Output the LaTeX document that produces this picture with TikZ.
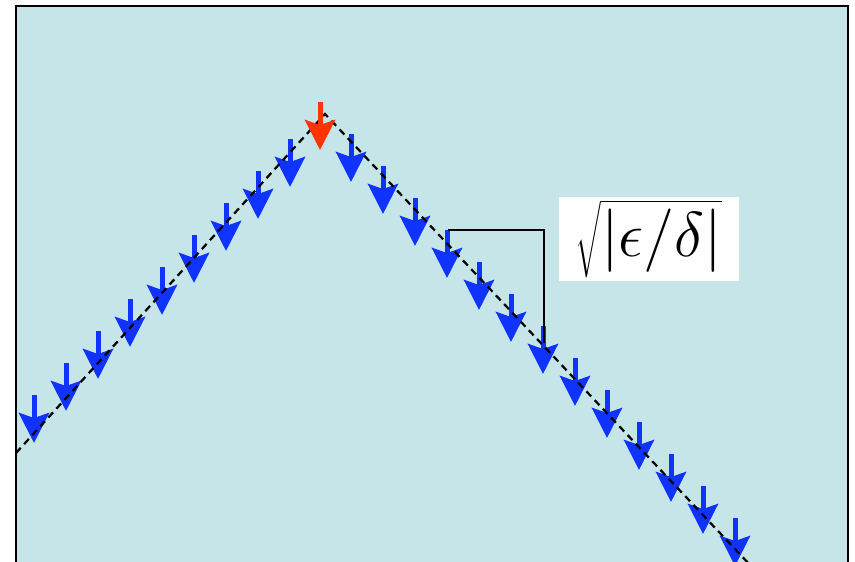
\documentclass[tikz,border=0pt]{standalone}
\usepackage{graphicx}
\usetikzlibrary{arrows.meta}
\definecolor{pool}{HTML}{C6E5E9}
\definecolor{spinblue}{HTML}{1133FF}
\definecolor{spinred}{HTML}{FF3300}
\tikzset{spin/.style={color=spinblue,line width=0.1cm,-{Stealth[length=0.6cm,width=0.6cm,inset=0.1cm]}},chain/.style={black,line width=0.045cm,dash pattern=on 0.14cm off 0.1cm},gapmark/.style={black,line width=0.035cm},gaplabel/.style={fill=white,inner sep=0pt,minimum width=3.6cm,minimum height=1.68cm,font=\Huge}}
\begin{document}
\begin{tikzpicture}[x=0.02cm,y=-0.02cm]
\clip (0,0) rectangle (855,561);
\draw[fill=pool,line width=0.04cm] (16,6) rectangle (848,600);
% blue spins on both slopes
\foreach \k in {0,...,8}
  \draw[spin] (34+32*\k,395-32*\k) -- ++(0,48);
\foreach \k in {0,...,12}
  \draw[spin] (351+32*\k,134+32*\k) -- ++(0,48);
% dashed chain
\coordinate (lend) at (16,453);
\coordinate (peak) at (325,114);
\coordinate (rend) at (768,584);
\draw[chain] (lend) -- (peak) -- (rend);
% spin at the top
\coordinate (top) at (320,102);
\draw[spin,color=spinred] (top) -- ++(0,48);
% spacing mark
\coordinate (g1) at (448,230);
\coordinate (g2) at (544,230);
\coordinate (g3) at (544,343);
\draw[gapmark] (g1) -- (g2) -- (g3);
\node[gaplabel] (gap) at (649,239) {\scalebox{1.45}{$\sqrt{|\epsilon/\delta|}$}};
\end{tikzpicture}
\end{document}
